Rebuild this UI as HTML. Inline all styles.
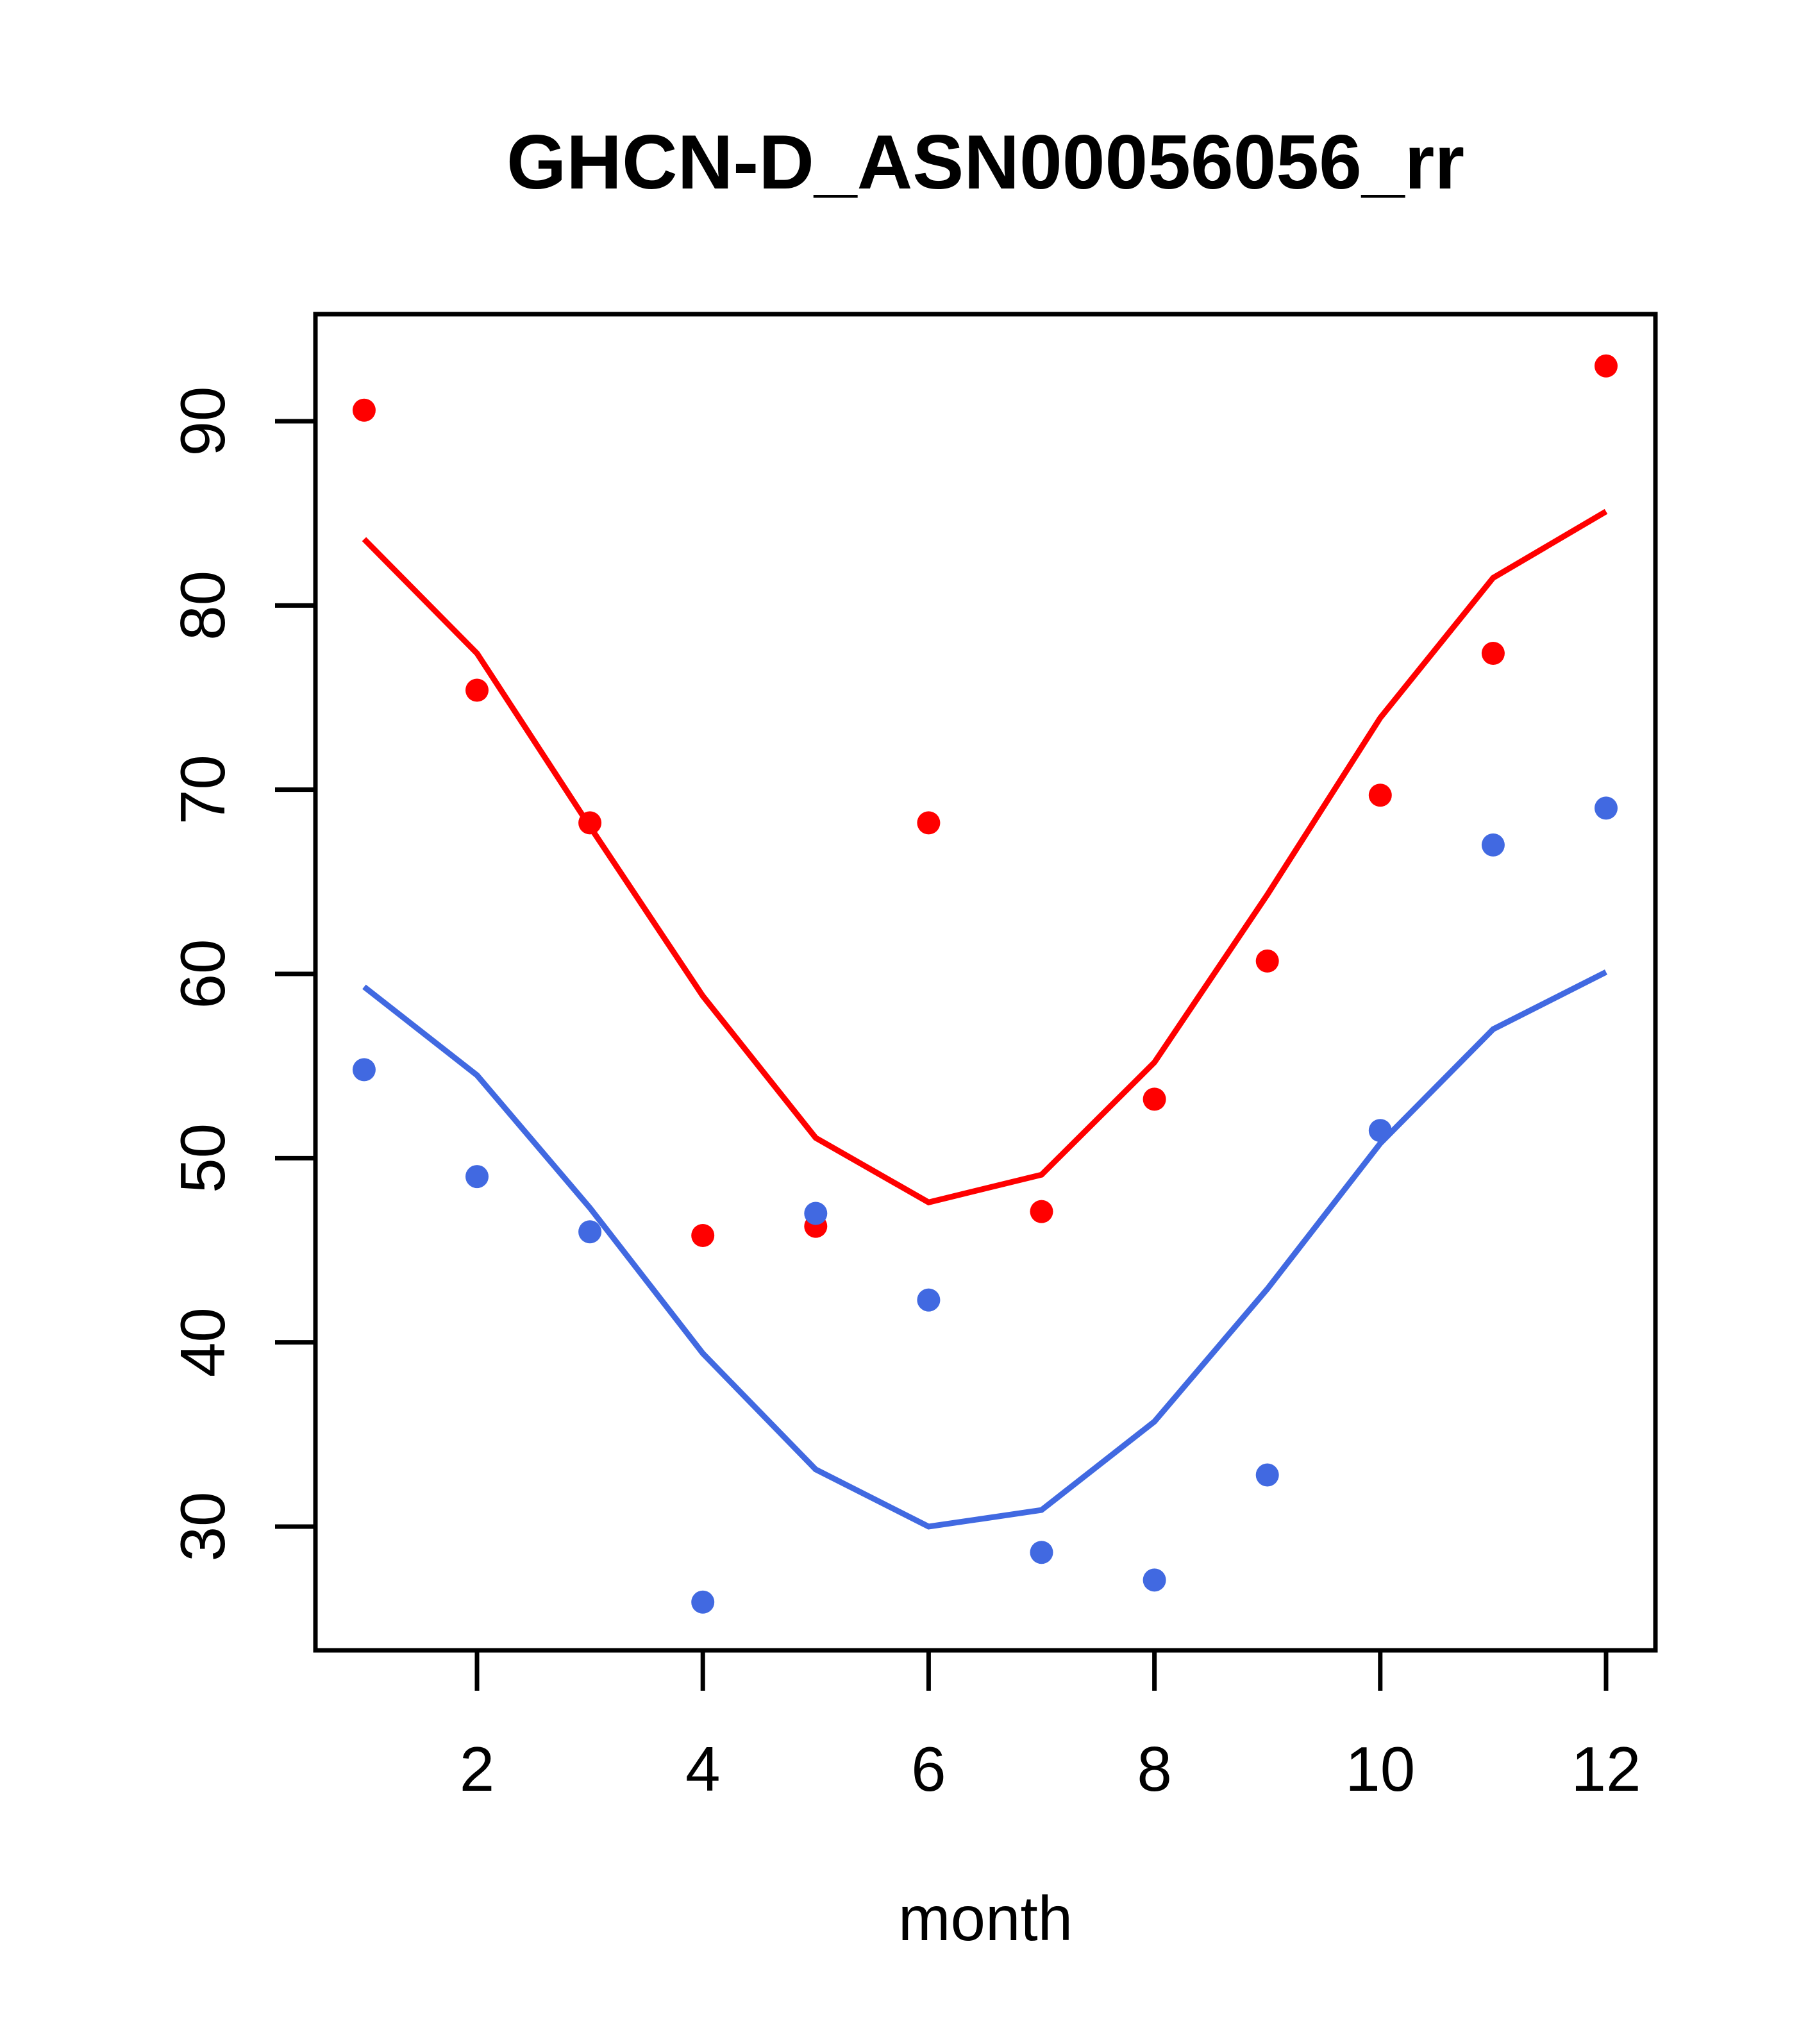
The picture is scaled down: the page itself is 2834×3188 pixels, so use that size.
<!DOCTYPE html>
<html><head><meta charset="utf-8"><style>html,body{margin:0;padding:0;background:#fff}svg{display:block}</style></head>
<body>
<svg id="chart" width="2834" height="3188" xmlns="http://www.w3.org/2000/svg" font-family="Liberation Sans, sans-serif">
<rect width="2834" height="3188" fill="#fff"/>
<text x="1537" y="294" font-size="120" font-weight="bold" text-anchor="middle">GHCN-D_ASN00056056_rr</text>
<text x="1537" y="3026" font-size="98" text-anchor="middle">month</text>
<g id="plot"></g>
</svg>
<script>
const months = [1,2,3,4,5,6,7,8,9,10,11,12];
const redPoints = [90.6,75.4,68.2,45.8,46.3,68.2,47.1,53.2,60.7,69.7,77.4,93.0];
const bluePoints = [54.8,49.0,46.0,25.9,47.0,42.3,28.6,27.1,32.8,51.5,67.0,69.0];
const redLine = [83.6,77.4,68.0,58.8,51.1,47.6,49.1,55.2,64.3,73.9,81.5,85.1];
const blueLine = [59.3,54.5,47.3,39.4,33.1,30.0,30.9,35.7,42.9,50.8,57.0,60.1];
const xTicks = [2,4,6,8,10,12];
const yTicks = [30,40,50,60,70,80,90];

const NS = "http://www.w3.org/2000/svg";
const g = document.getElementById('plot');
const box = {l:492, r:2582, t:490, b:2574};
function xs(m){ return 744 + (m-2)*(2505-744)/10; }
function ys(v){ return 2381 - (v-30)*(2381-657)/60; }
function mk(tag, attrs){ const e=document.createElementNS(NS,tag); for(const k in attrs) e.setAttribute(k,attrs[k]); g.appendChild(e); return e; }

const frame = mk('rect',{x:box.l,y:box.t,width:box.r-box.l,height:box.b-box.t,fill:'none',stroke:'#000','stroke-width':7});



xTicks.forEach(t=>{
  const x=xs(t);
  const l=mk('line',{x1:x,y1:box.b,x2:x,y2:box.b+63,stroke:'#000','stroke-width':7});
  
  
  const tx=mk('text',{x:x,y:2793,'font-size':98,'text-anchor':'middle'});
  tx.textContent=t;
  
  
});
yTicks.forEach(t=>{
  const y=ys(t);
  const l=mk('line',{x1:box.l,y1:y,x2:box.l-63,y2:y,stroke:'#000','stroke-width':7});
  
  
  const tx=mk('text',{x:0,y:0,'font-size':98,'text-anchor':'middle',transform:`translate(350,${y}) rotate(-90)`});
  tx.textContent=t;
  
  
});

function drawLine(vals,color,name){
  const p=mk('polyline',{points:vals.map((v,i)=>xs(months[i])+','+ys(v)).join(' '),fill:'none',stroke:color,'stroke-width':9});
  
  
}
function drawPts(vals,color,name){
  vals.forEach((v,i)=>{
    const c=mk('circle',{cx:xs(months[i]),cy:ys(v),r:18,fill:color});
    
    
  });
}
drawLine(redLine,'#ff0000','red-line');
drawLine(blueLine,'#4169e1','blue-line');
drawPts(redPoints,'#ff0000','red-point');
drawPts(bluePoints,'#4169e1','blue-point');
</script>
</body></html>
